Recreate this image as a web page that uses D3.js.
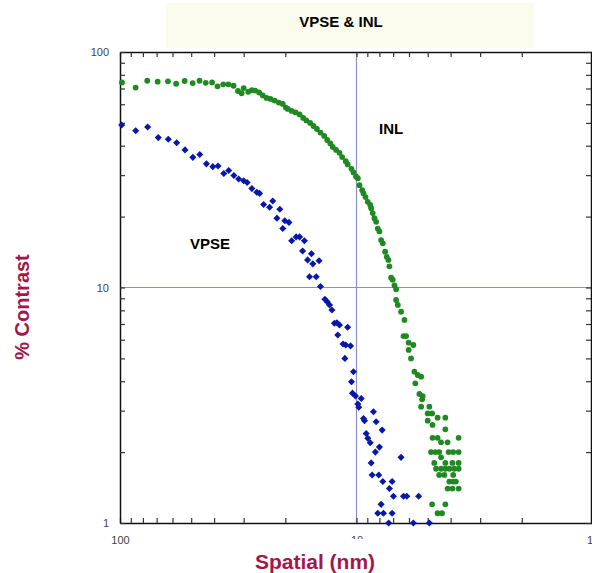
<!DOCTYPE html>
<html>
<head>
<meta charset="utf-8">
<script src="https://cdn.jsdelivr.net/npm/d3@7/dist/d3.min.js"></script>
<style>
  html, body { margin: 0; padding: 0; background: #ffffff; }
  svg { display: block; }
  text { font-family: Arial, "Liberation Sans", Helvetica, sans-serif; }
</style>
</head>
<body>
<svg id="chart" width="592" height="573"></svg>
<script>
// ---------------- data ----------------
const chartTitle = "VPSE & INL";
const xTitle = "Spatial (nm)";
const yTitle = "% Contrast";
const seriesNames = ["VPSE", "INL"];

const xTickValues = [100, 10, 1];
const xTickLabels = ["100", "10", "1"];
const yTickValues = [1, 10, 100];
const yTickLabels = ["1", "10", "100"];

// INL (green) : spatial (nm), % contrast
const inlX = [98.1, 85.9, 76.7, 69.3, 62.7, 57.9, 53.3, 49.3, 46.1, 43.4, 40.8, 38.7, 36.6, 34.8, 33.1, 31.7,
  30.6, 30.0, 28.7, 27.7, 26.8, 25.8, 24.9, 24.0, 23.1, 22.2, 21.3, 20.5, 19.9, 19.5, 18.8, 18.1, 17.4,
  16.8, 16.3, 15.7, 15.2, 14.7, 14.2, 13.7, 13.3, 12.9, 12.6, 12.2, 11.8, 11.5, 11.1, 10.9, 10.5, 10.3, 10.05,
  9.87, 9.71, 9.46, 9.34, 9.16, 8.96, 8.75, 8.67, 8.54, 8.40, 8.26, 8.13, 8.00, 7.87, 7.74, 7.57, 7.45, 7.33,
  7.26, 7.14, 7.03, 6.91, 6.80, 6.80, 6.69, 6.48, 6.27, 6.33, 6.17, 6.02, 5.75, 6.02, 5.88, 5.69, 5.51, 5.33,
  5.64, 5.42, 5.25, 5.28, 5.33, 4.92, 5.00, 4.79, 4.54, 4.21, 5.00, 4.77, 4.21, 4.77, 4.54, 4.39, 4.12, 3.70,
  4.84, 4.64, 4.47, 4.08, 3.90, 3.70, 4.39, 4.69, 4.21, 3.93, 3.70, 4.61, 4.39, 4.21, 4.05, 3.86, 3.70,
  4.47, 4.25, 3.90, 4.05, 3.90, 3.80, 4.12, 3.93, 3.70, 4.79, 4.21, 4.54, 4.35];
const inlY = [74.3, 70.6, 75.5, 74.8, 75.1, 73.3, 75.3, 73.8, 75.5, 74.0, 74.3, 71.5, 72.9, 72.9, 71.9, 68.3,
  66.8, 70.3, 67.8, 68.8, 68.6, 67.3, 65.4, 63.8, 63.2, 62.2, 61.0, 60.2, 58.1, 57.3, 56.2, 55.4, 54.3,
  52.5, 51.2, 50.0, 48.5, 47.1, 45.5, 44.0, 42.3, 40.9, 39.5, 38.4, 37.3, 35.8, 34.4, 33.3, 31.9, 30.8, 29.6,
  29.1, 27.2, 25.9, 25.1, 24.2, 23.1, 22.4, 21.7, 20.7, 19.7, 19.0, 17.8, 17.3, 15.9, 15.4, 14.2, 13.5, 13.1,
  12.3, 11.0, 10.8, 10.2, 9.83, 8.85, 8.43, 7.89, 7.28, 6.22, 6.22, 5.83, 5.70, 5.43, 5.00, 4.39, 4.25, 4.18,
  3.92, 3.53, 3.46, 3.35, 3.12, 3.12, 2.92, 2.92, 2.8, 2.8, 2.72, 2.61, 2.5, 2.3, 2.3, 2.2, 2.2, 2.3,
  2.0, 2.0, 2.0, 2.0, 2.0, 2.0, 1.9, 1.8, 1.8, 1.8, 1.8, 1.7, 1.7, 1.7, 1.7, 1.7, 1.7,
  1.6, 1.6, 1.6, 1.5, 1.5, 1.5, 1.4, 1.4, 1.4, 1.2, 1.2, 1.1, 1.1];

// VPSE (blue) : spatial (nm), % contrast
const vpseX = [98.4, 85.8, 76.4, 68.9, 62.5, 57.6, 53.1, 49.2, 46.0, 43.1, 40.5, 38.5, 36.4, 34.7, 33.0, 31.5,
  30.0, 29.0, 27.7, 26.4, 25.7, 24.7, 23.3, 22.6, 21.1, 21.7, 20.1, 19.3, 20.5, 18.8, 18.0, 17.4, 16.6, 16.9,
  16.1, 15.5, 15.3, 14.4, 15.8, 14.8, 14.2, 13.6, 13.3, 13.0, 12.7, 12.4, 12.1, 11.8, 10.9, 12.0, 11.4, 11.1,
  10.6, 11.2, 10.3, 10.5, 10.4, 10.1, 9.55, 9.87, 9.78, 9.34, 9.25, 8.48, 8.26, 9.10, 8.96, 8.75, 7.79, 8.00,
  8.32, 6.48, 8.67, 8.59, 8.05, 7.74, 7.07, 7.26, 6.98, 6.33, 6.13, 5.46, 7.87, 8.13, 7.69, 7.07, 7.31, 5.75, 4.92];
const vpseY = [49.0, 46.3, 48.0, 43.3, 42.6, 41.2, 38.4, 35.7, 36.7, 33.5, 32.6, 32.8, 30.5, 31.4, 29.9, 28.9,
  28.4, 27.9, 26.3, 25.4, 25.1, 22.5, 21.9, 23.3, 21.5, 19.7, 19.2, 18.9, 17.8, 15.8, 16.4, 16.4, 15.8, 14.3,
  13.1, 13.9, 12.6, 13.0, 11.1, 11.1, 10.1, 8.91, 8.70, 8.43, 8.03, 7.05, 7.09, 6.93, 6.78, 6.29, 5.76, 5.70,
  5.65, 5.00, 4.39, 3.98, 3.56, 3.46, 3.38, 3.20, 3.10, 2.78, 2.72, 2.97, 2.69, 2.40, 2.29, 2.19, 2.48, 2.10,
  2.0, 1.9, 1.8, 1.6, 1.6, 1.5, 1.5, 1.4, 1.3, 1.3, 1.3, 1.3, 1.2, 1.1, 1.1, 1.1, 1.0, 1.0, 1.0];

// ---------------- layout ----------------
const W = 592, H = 573;
const plot = { left: 120, right: 593, top: 52, bottom: 523, frameRight: 591 };
const greenColor = "#1f8a22";
const blueColor = "#0717aa";
const titleColor = "#a3174c";
const gridColor = "#8a8fc6";

const svg = d3.select("#chart");

const x = d3.scaleLog().domain([100, 1]).range([plot.left, plot.right]);
const y = d3.scaleLog().domain([1, 100]).range([plot.bottom, plot.top]);

// minor + major tick positions
const allX = [];
[100, 10].forEach(dec => { for (let k = 1; k <= 9; k++) allX.push(dec / 10 * k); });
allX.push(100);
const allY = [];
[1, 10].forEach(dec => { for (let k = 1; k <= 9; k++) allY.push(dec * k); });
allY.push(100);

// title box
svg.append("rect").attr("x", 166).attr("y", 3).attr("width", 368).attr("height", 45)
  .attr("fill", "#fcfcee");
svg.append("text").attr("x", 341).attr("y", 26.5).attr("text-anchor", "middle")
  .attr("font-size", 15).attr("font-weight", "bold").attr("fill", "#000").text(chartTitle);

// grid lines at decade 10
svg.append("line").attr("x1", x(10)).attr("x2", x(10)).attr("y1", plot.top).attr("y2", plot.bottom)
  .attr("stroke", gridColor).attr("stroke-width", 1.2);
svg.append("line").attr("x1", plot.left).attr("x2", plot.frameRight).attr("y1", y(10)).attr("y2", y(10))
  .attr("stroke", gridColor).attr("stroke-width", 1.2);

const fmtX = d => { const i = xTickValues.indexOf(d); return i >= 0 ? xTickLabels[i] : ""; };
const fmtY = d => { const i = yTickValues.indexOf(d); return i >= 0 ? yTickLabels[i] : ""; };

function styleAxis(g) {
  g.select(".domain").attr("stroke", "#111").attr("stroke-width", 1.5);
  g.selectAll(".tick line").attr("stroke", "#333").attr("stroke-width", 1.2);
  g.selectAll(".tick text").attr("fill", "#444").attr("font-size", 11)
    .attr("font-family", "Arial, 'Liberation Sans', sans-serif");
}

// bottom
svg.append("g").attr("transform", `translate(0,${plot.bottom})`)
  .call(d3.axisBottom(x).tickValues(allX).tickSizeInner(-5).tickSizeOuter(0).tickPadding(13).tickFormat(fmtX))
  .call(styleAxis)
  .call(g => g.selectAll(".tick text").filter(d => d === 1).attr("text-anchor", "end").attr("dx", "-0.5"));
// top
svg.append("g").attr("transform", `translate(0,${plot.top})`)
  .call(d3.axisTop(x).tickValues(allX).tickSizeInner(-5).tickSizeOuter(0).tickFormat(""))
  .call(styleAxis);
// left
svg.append("g").attr("transform", `translate(${plot.left},0)`)
  .call(d3.axisLeft(y).tickValues(allY).tickSizeInner(-5).tickSizeOuter(0).tickPadding(11).tickFormat(fmtY))
  .call(styleAxis);
// right
svg.append("g").attr("transform", `translate(${plot.frameRight},0)`)
  .call(d3.axisRight(y).tickValues(allY).tickSizeInner(-5).tickSizeOuter(0).tickFormat(""))
  .call(styleAxis);

// data points
const inl = inlX.map((v, i) => ({ x: v, y: inlY[i] }));
const vpse = vpseX.map((v, i) => ({ x: v, y: vpseY[i] }));

svg.append("g").selectAll("circle").data(inl).join("circle")
  .attr("cx", d => x(d.x)).attr("cy", d => y(d.y)).attr("r", 2.9)
  .attr("fill", greenColor);

const diamond = d3.symbol().type(d3.symbolSquare).size(25);
svg.append("g").selectAll("path").data(vpse).join("path")
  .attr("d", diamond)
  .attr("transform", d => `translate(${x(d.x)},${y(d.y)}) rotate(45)`)
  .attr("fill", blueColor);

// series labels
svg.append("text").attr("x", 379).attr("y", 133.5).attr("font-size", 15).attr("font-weight", "bold")
  .attr("fill", "#000").text(seriesNames[1]);
svg.append("text").attr("x", 190).attr("y", 248.5).attr("font-size", 15).attr("font-weight", "bold")
  .attr("fill", "#000").text(seriesNames[0]);

// x-axis title with white backing
svg.append("rect").attr("x", 200).attr("y", 539).attr("width", 380).attr("height", 34).attr("fill", "#fff");
svg.append("text").attr("x", 315).attr("y", 568.5).attr("text-anchor", "middle")
  .attr("font-size", 21).attr("font-weight", "bold").attr("fill", titleColor).text(xTitle);

// y-axis title
svg.append("text").attr("transform", "translate(29,307) rotate(-90)").attr("text-anchor", "middle")
  .attr("font-size", 20).attr("font-weight", "bold").attr("fill", titleColor).text(yTitle);
</script>
</body>
</html>
